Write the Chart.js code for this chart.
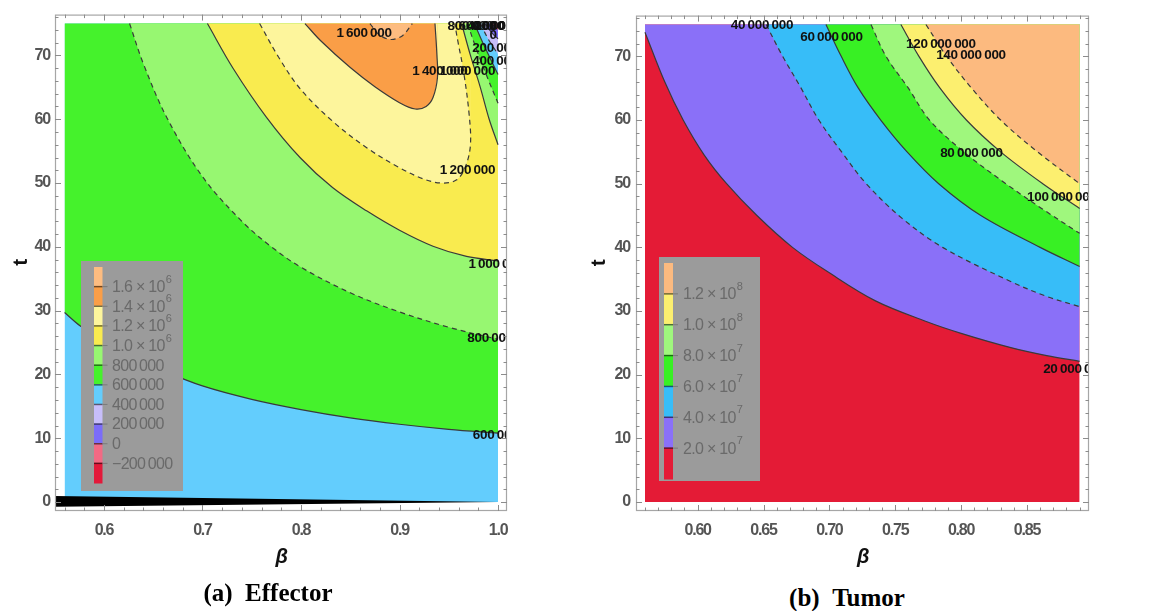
<!DOCTYPE html>
<html>
<head>
<meta charset="utf-8">
<script src="https://cdn.jsdelivr.net/npm/chart.js@4.4.1/dist/chart.umd.min.js"></script>
<style>
html, body { margin: 0; padding: 0; background: #fff; }
#wrap { position: relative; width: 1152px; height: 611px; overflow: hidden; }
canvas { position: absolute; top: 0; }
#effector { left: 0; }
#tumor { left: 576px; }
.cap { position: absolute; font: bold 25px "Liberation Serif", "Times New Roman", serif; line-height: 30px; color: #000; transform: translateX(-50%); white-space: nowrap; }
</style>
</head>
<body>
<div id="wrap">
  <canvas id="effector" width="576" height="580"></canvas>
  <canvas id="tumor" width="576" height="580"></canvas>
  <div class="cap" style="left:268px; top:578px">(a)&ensp;Effector</div>
  <div class="cap" style="left:847px; top:583px">(b)&ensp;Tumor</div>
</div>
<script>
// top of the computed t range
var tTop = 75;
var tTicks = [0, 10, 20, 30, 40, 50, 60, 70];

// ---------- (a) Effector : contour curves as [beta, t] ----------
var effBeta = [0.56, 1.0];
var effXTicks = [0.6, 0.7, 0.8, 0.9, 1.0];
var effLevels = [-200000, 0, 200000, 400000, 600000, 800000, 1000000, 1200000, 1400000, 1600000];
var effColors = ['#e3193a', '#f26a84', '#7b6cf9', '#c7befa', '#63cdfd', '#45f22c',
                 '#97f771', '#f9eb4f', '#fdf59c', '#fa9e47', '#fdbc80'];

var eff600 = [[0.56,29.7],[0.576,27.6],[0.6,25.3],[0.63,22.8],[0.66,20.6],[0.7,18.2],[0.75,16.1],
              [0.8,14.5],[0.85,13.2],[0.9,12.2],[0.95,11.4],[1.0,10.8]];
var eff800 = [[0.626,75],[0.64,68.7],[0.664,60.2],[0.70,51],[0.74,44],[0.77,40],[0.80,36.8],
              [0.85,32.8],[0.90,29.8],[0.95,27.4],[1.0,25.5]];
var eff1000 = [[0.705,75],[0.731,68],[0.765,60.3],[0.799,54],[0.832,49.3],[0.867,45.6],[0.9,42.6],
               [0.934,40.1],[0.968,38.5],[1.0,37.8]];
var eff1200 = [[0.758,75],[0.777,69.8],[0.799,64.8],[0.832,59.7],[0.867,55.5],[0.9,52.4],[0.925,50.6],
               [0.943,50.0],[0.958,50.5],[0.967,52.6],[0.972,56],[0.9705,61],[0.965,67.5],[0.9595,72],[0.956,75]];
var eff1400 = [[0.804,75],[0.82,72.3],[0.85,68.1],[0.875,65.1],[0.9,62.6],[0.916,61.6],[0.927,62],
               [0.934,63.4],[0.9385,66.5],[0.938,70],[0.936,75]];
var eff1600 = [[0.870,75],[0.879,73.3],[0.891,72.5],[0.903,73.1],[0.913,75]];
// top right corner, values fall towards beta = 1
var eff1000b = [[0.963,75],[0.972,70],[0.982,65],[0.991,60],[1.0,56]];
var eff800b = [[0.969,75],[0.978,71],[0.988,67],[1.0,62.5]];
var eff600b = [[0.976,75],[0.986,71.5],[1.0,67]];
var eff400b = [[0.982,75],[0.991,72.3],[1.0,70.2]];
var eff200b = [[0.987,75],[0.994,73.5],[1.0,72.6]];
var eff0b = [[0.993,75],[1.0,74]];
// black band along t = 0
var effBandTop = [[0.5503,0.94],[1.0,0]];
var effBandBottom = [[0.5503,-0.73],[1.0,0]];
// contour labels: value, beta, t
var effLabels = [[1600000,0.864,73.5],[1400000,0.941,67.5],[1000000,0.969,67.5],[1200000,0.969,52],
                 [1000000,0.998,37.2],[800000,0.992,25.6],[600000,0.9976,10.5],
                 [800000,0.972,74.6],[600000,0.983,74.6],[400000,0.992,74.6],[200000,0.999,74.6],
                 [0,0.995,73.2],[200000,0.997,71.1],[400000,0.997,69.1]];

// ---------- (b) Tumor ----------
var tumBeta = [0.56, 0.89];
var tumXTicks = [0.60, 0.65, 0.70, 0.75, 0.80, 0.85];
var tumLevels = [20000000, 40000000, 60000000, 80000000, 100000000, 120000000];
var tumColors = ['#e41b36', '#8a70f8', '#37bdf8', '#38f024', '#9ff77d', '#fcef6f', '#fcba7f'];

var tum20 = [[0.56,73.8],[0.575,66],[0.589,60],[0.605,54.5],[0.622,50],[0.645,45],[0.672,40],[0.70,36],
             [0.735,31.6],[0.773,28.4],[0.80,26.5],[0.837,24.3],[0.865,23.0],[0.89,22.1]];
var tum40 = [[0.652,75],[0.664,70.2],[0.678,65.2],[0.692,60],[0.71,54.8],[0.728,50],[0.755,44.6],
             [0.786,40],[0.836,34.8],[0.865,32.3],[0.89,30.7]];
var tum60 = [[0.6974,75],[0.709,70],[0.722,65],[0.739,60],[0.759,55],[0.783,50],[0.815,45],[0.86,40],[0.89,37]];
var tum80 = [[0.7316,75],[0.743,70],[0.76,65],[0.776,60],[0.802,55],[0.834,50],[0.862,46],[0.89,42.2]];
var tum100 = [[0.7543,75],[0.768,70],[0.784,65],[0.804,60],[0.83,55],[0.862,50],[0.89,46.1]];
var tum120 = [[0.7733,75],[0.789,70],[0.808,65],[0.83,60],[0.858,55],[0.89,50]];
var tumLabels = [[40000000,0.6488,74.9],[60000000,0.7016,73],[120000000,0.7847,71.9],[140000000,0.8075,70.2],
                 [80000000,0.8078,54.7],[100000000,0.8765,47.9],[20000000,0.886,20.8]];

// ---------- helpers ----------
var FONT = '"Liberation Sans", Arial, sans-serif';

function xy(arr) {
  return arr.map(function (p) { return {x: p[0], y: p[1]}; });
}

function group(v) {
  var s = Math.abs(v).toString().replace(/\B(?=(\d{3})+(?!\d))/g, '\u2009');
  return (v < 0 ? '\u2212' : '') + s;
}

// region between a curve and the top of the domain
function fillSet(arr, color, target) {
  return {data: xy(arr), backgroundColor: color, borderWidth: 0, pointRadius: 0,
          tension: 0.35, fill: target || {value: tTop}};
}

// closed cap (curve leaves and re-enters the top edge): split at its rightmost point
function capFills(arr, inside, outside) {
  var k = 0;
  arr.forEach(function (p, i) { if (p[0] > arr[k][0]) k = i; });
  var sets = [fillSet(arr.slice(0, k + 1), inside)];
  if (k < arr.length - 1) sets.push(fillSet(arr.slice(k).reverse(), outside));
  return sets;
}

function lineSet(arr, dashed) {
  return {data: xy(arr), borderColor: '#3a3a3a', borderWidth: 1.2, borderDash: dashed ? [5, 4] : [],
          pointRadius: 0, tension: 0.35, fill: false};
}

function darken(hex) {
  var n = parseInt(hex.slice(1), 16);
  var r = Math.round(((n >> 16) & 255) * 0.45), g = Math.round(((n >> 8) & 255) * 0.45), b = Math.round((n & 255) * 0.45);
  return 'rgb(' + r + ',' + g + ',' + b + ')';
}

// narrow the tick label glyphs a little, like the original
var tightText = {
  id: 'tightText',
  beforeDraw: function (chart) { chart.ctx.letterSpacing = '-1.2px'; }
};

// frame with inward major / minor ticks on all four sides
function framePlugin(xMajor, xStep, yMajor, yStep) {
  return {
    id: 'frame',
    afterDraw: function (chart) {
      var ctx = chart.ctx, a = chart.chartArea, sx = chart.scales.x, sy = chart.scales.y;
      ctx.save();
      ctx.strokeStyle = '#a6a6a6';
      ctx.lineWidth = 1.2;
      ctx.strokeRect(a.left + 0.5, a.top + 0.5, a.right - a.left - 1, a.bottom - a.top - 1);
      ctx.strokeStyle = '#8c8c8c';
      ctx.lineWidth = 1;
      function minors(scale, step, major) {
        var out = [];
        for (var k = Math.ceil(scale.min / step - 1e-9); k <= Math.floor(scale.max / step + 1e-9); k++) {
          var v = k * step;
          if (!major.some(function (m) { return Math.abs(m - v) < step / 10; })) out.push(v);
        }
        return out;
      }
      function xMarks(vals, len) {
        vals.forEach(function (v) {
          var px = Math.round(sx.getPixelForValue(v)) + 0.5;
          ctx.beginPath();
          ctx.moveTo(px, a.bottom); ctx.lineTo(px, a.bottom - len);
          ctx.moveTo(px, a.top); ctx.lineTo(px, a.top + len);
          ctx.stroke();
        });
      }
      function yMarks(vals, len) {
        vals.forEach(function (v) {
          var py = Math.round(sy.getPixelForValue(v)) + 0.5;
          ctx.beginPath();
          ctx.moveTo(a.left, py); ctx.lineTo(a.left + len, py);
          ctx.moveTo(a.right, py); ctx.lineTo(a.right - len, py);
          ctx.stroke();
        });
      }
      xMarks(xMajor, 6); xMarks(minors(sx, xStep, xMajor), 3.5);
      yMarks(yMajor, 6); yMarks(minors(sy, yStep, yMajor), 3.5);
      ctx.restore();
    }
  };
}

// contour value labels, clipped to the frame
function labelPlugin(items) {
  return {
    id: 'clabels',
    afterDatasetsDraw: function (chart) {
      var ctx = chart.ctx, a = chart.chartArea, sx = chart.scales.x, sy = chart.scales.y;
      ctx.save();
      ctx.beginPath();
      ctx.rect(a.left, a.top, a.right - a.left, a.bottom - a.top);
      ctx.clip();
      ctx.letterSpacing = '-0.3px';
      ctx.font = 'bold 13.5px ' + FONT;
      ctx.fillStyle = '#111';
      ctx.textAlign = 'center';
      ctx.textBaseline = 'middle';
      items.forEach(function (l) {
        ctx.fillText(group(l[0]), sx.getPixelForValue(l[1]), sy.getPixelForValue(l[2]));
      });
      ctx.restore();
    }
  };
}

// grey bar legend in the lower left of the plot
function legendPlugin(colors, levels, box) {
  return {
    id: 'barLegend',
    afterDatasetsDraw: function (chart) {
      var ctx = chart.ctx, a = chart.chartArea;
      var bx = a.left + box.left, by = a.bottom - box.bottom - box.height;
      ctx.save();
      ctx.fillStyle = '#9b9b9b';
      ctx.fillRect(bx, by, box.width, box.height);
      var barX = bx + box.barLeft, barTop = by + box.barTop;
      var barH = box.height - box.barTop - box.barBottom, h = barH / colors.length;
      colors.forEach(function (c, i) {
        ctx.fillStyle = c;
        ctx.fillRect(barX, barTop + barH - (i + 1) * h, box.barWidth, h + 0.5);
      });
      ctx.textBaseline = 'middle';
      ctx.textAlign = 'left';
      ctx.letterSpacing = '-0.7px';
      levels.forEach(function (v, i) {
        var yy = barTop + barH - (i + 1) * h;
        ctx.strokeStyle = darken(colors[i]);
        ctx.lineWidth = 1.5;
        ctx.beginPath(); ctx.moveTo(barX, yy); ctx.lineTo(barX + box.barWidth, yy); ctx.stroke();
        ctx.strokeStyle = '#7b7b7b';
        ctx.lineWidth = 1;
        ctx.beginPath(); ctx.moveTo(barX + box.barWidth, yy); ctx.lineTo(barX + box.barWidth + 5, yy); ctx.stroke();
        ctx.fillStyle = '#6a6a6a';
        var tx = barX + box.barWidth + box.gap;
        if (Math.abs(v) >= 1000000) {
          var e = Math.floor(Math.log10(Math.abs(v)) + 1e-9);
          var m = (v / Math.pow(10, e)).toFixed(1) + ' \u00d7 10';
          ctx.font = '16px ' + FONT;
          ctx.fillText(m, tx, yy + 1);
          var w = ctx.measureText(m).width;
          ctx.font = '11px ' + FONT;
          ctx.fillText(String(e), tx + w + 1, yy - 7);
        } else {
          ctx.font = '16px ' + FONT;
          ctx.fillText(group(v), tx, yy + 1);
        }
      });
      ctx.restore();
    }
  };
}

function makeChart(id, datasets, plugins, ax) {
  datasets.forEach(function (d, i) { d.order = datasets.length - i; });
  return new Chart(id, {
    type: 'line',
    data: {datasets: datasets},
    options: {
      responsive: false,
      animation: false,
      events: [],
      layout: {padding: {top: 13, right: ax.padRight, left: 0, bottom: 0}},
      plugins: {legend: {display: false}, tooltip: {enabled: false}},
      scales: {
        x: {
          type: 'linear', min: ax.xMin, max: ax.xMax,
          afterBuildTicks: function (s) { s.ticks = ax.xTicks.map(function (v) { return {value: v}; }); },
          afterFit: function (s) { s.height = 69; },
          grid: {display: false, drawTicks: false}, border: {display: false},
          ticks: {padding: 10, maxRotation: 0, autoSkip: false, color: '#555',
                  font: {family: FONT, size: 16, weight: 'bold'},
                  callback: function (v) { return v.toFixed(ax.xDigits); }},
          title: {display: true, text: '\u03b2', color: '#111', padding: {top: 0, bottom: 11},
                  font: {family: FONT, size: 20, weight: 'bold', style: 'italic'}}
        },
        y: {
          type: 'linear', min: -1.4, max: 76.4,
          afterBuildTicks: function (s) { s.ticks = tTicks.map(function (v) { return {value: v}; }); },
          afterFit: function (s) { s.width = ax.yWidth; },
          grid: {display: false, drawTicks: false}, border: {display: false},
          ticks: {padding: ax.yPad, color: '#555', font: {family: FONT, size: 16, weight: 'bold'}},
          title: {display: true, text: 't', color: '#111', padding: {top: ax.tPad, bottom: 0},
                  font: {family: FONT, size: 21, weight: 'bold'}}
        }
      }
    },
    plugins: [tightText].concat(plugins)
  });
}

// ---------- (a) Effector ----------
var c = effColors;
var effSets = [fillSet([[effBeta[0], tTop], [effBeta[1], tTop]], c[4], {value: 0}),
               fillSet(eff600, c[5]), fillSet(eff800, c[6]), fillSet(eff1000, c[7])]
  .concat(capFills(eff1200, c[8], c[7]))
  .concat(capFills(eff1400, c[9], c[8]))
  .concat(capFills(eff1600, c[10], c[9]))
  .concat([fillSet(eff1000b, c[6]), fillSet(eff800b, c[5]), fillSet(eff600b, c[4]),
           fillSet(eff400b, c[3]), fillSet(eff200b, c[2]), fillSet(eff0b, c[1])]);
effSets.push({data: xy(effBandTop), backgroundColor: '#000', borderWidth: 0, pointRadius: 0, fill: '+1'});
effSets.push({data: xy(effBandBottom), borderWidth: 0, pointRadius: 0, fill: false});
effSets = effSets.concat([lineSet(eff600, false), lineSet(eff800, true), lineSet(eff1000, false),
                          lineSet(eff1200, true), lineSet(eff1400, false), lineSet(eff1600, true),
                          lineSet(eff1000b, false), lineSet(eff800b, true), lineSet(eff600b, false),
                          lineSet(eff400b, true), lineSet(eff200b, false), lineSet(eff0b, true)]);

makeChart('effector', effSets,
  [labelPlugin(effLabels),
   legendPlugin(effColors, effLevels, {left: 26, bottom: 20, width: 102, height: 230,
                                        barLeft: 13, barWidth: 8.5, barTop: 6, barBottom: 8, gap: 9.5}),
   framePlugin(effXTicks, 0.02, tTicks, 2)],
  {xMin: 0.5503, xMax: 1.0091, xTicks: effXTicks, xDigits: 1, padRight: 69, yWidth: 55, yPad: 5, tPad: 9});

// ---------- (b) Tumor ----------
var d = tumColors;
var tumSets = [fillSet([[tumBeta[0], tTop], [tumBeta[1], tTop]], d[0], {value: 0}),
               fillSet(tum20, d[1]), fillSet(tum40, d[2]), fillSet(tum60, d[3]),
               fillSet(tum80, d[4]), fillSet(tum100, d[5]), fillSet(tum120, d[6]),
               lineSet(tum20, false), lineSet(tum40, true), lineSet(tum60, false),
               lineSet(tum80, true), lineSet(tum100, false), lineSet(tum120, true)];

makeChart('tumor', tumSets,
  [labelPlugin(tumLabels),
   legendPlugin(tumColors, tumLevels, {left: 23, bottom: 30, width: 101, height: 224,
                                        barLeft: 5, barWidth: 9, barTop: 6, barBottom: 2, gap: 10}),
   framePlugin(tumXTicks, 0.01, tTicks, 2)],
  {xMin: 0.5532, xMax: 0.8971, xTicks: tumXTicks, xDigits: 2, padRight: 63, yWidth: 60, yPad: 6, tPad: 11});
</script>
</body>
</html>
